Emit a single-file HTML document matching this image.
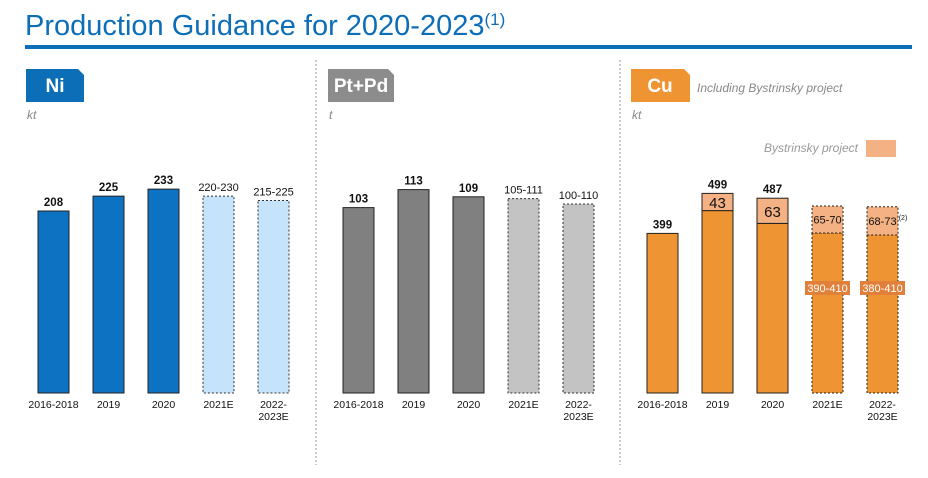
<!DOCTYPE html>
<html><head><meta charset="utf-8"><style>
body{margin:0;background:#fff;}
svg{display:block;font-family:"Liberation Sans","DejaVu Sans",sans-serif;}
</style></head><body>
<svg id="c" width="928" height="478" viewBox="0 0 928 478">
<text x="25" y="35" font-size="29" fill="#0d6eb8">Production Guidance for 2020-2023<tspan font-size="17" dy="-10">(1)</tspan></text>
<rect x="25" y="45" width="887" height="4" fill="#0d6eb8"/>
<line x1="316" y1="60" x2="316" y2="465" stroke="#999" stroke-dasharray="2,2"/>
<line x1="620" y1="60" x2="620" y2="465" stroke="#999" stroke-dasharray="2,2"/>
<path d="M26,69 H78 L84,75 V102 H26 Z" fill="#0d6eb8"/>
<text x="55" y="92" font-size="19" font-weight="bold" fill="#fff" text-anchor="middle">Ni</text>
<text x="27" y="119" font-size="12" font-style="italic" fill="#888">kt</text>
<path d="M328,69 H388 L394,75 V102 H328 Z" fill="#8c8c8c"/>
<text x="361" y="92" font-size="19" font-weight="bold" fill="#fff" text-anchor="middle">Pt+Pd</text>
<text x="329" y="119" font-size="12" font-style="italic" fill="#888">t</text>
<path d="M631,69 H684 L690,75 V102 H631 Z" fill="#ef9433"/>
<text x="660" y="92" font-size="19" font-weight="bold" fill="#fff" text-anchor="middle">Cu</text>
<text x="697" y="92" font-size="12" font-style="italic" fill="#888">Including Bystrinsky project</text>
<text x="632" y="119" font-size="12" font-style="italic" fill="#888">kt</text>
<text x="858" y="152" font-size="12" font-style="italic" fill="#999" text-anchor="end">Bystrinsky project</text>
<rect x="866" y="140" width="30" height="17" fill="#f4b183"/>
<g id="bars"></g>
</svg>
<script>
const categories=["2016-2018","2019","2020","2021E","2022-\n2023E"];
const niValues=[208,225,233,225,220];
const niLabels=["208","225","233","220-230","215-225"];
const ptValues=[103,113,109,108,105];
const ptLabels=["103","113","109","105-111","100-110"];
const cuBase=[399,456,424,400,395];
const cuBys=[0,43,63,67.5,70.5];
const cuTotalLabels=["399","499","487","",""];
const cuBysLabels=["","43","63","65-70","68-73"];
const cuBaseLabels=["","","","390-410","380-410"];
const forecast=[false,false,false,true,true];

const NS="http://www.w3.org/2000/svg";
const g=document.getElementById('bars');
const BASE=393;
function mk(tag,attrs,parent){const e=document.createElementNS(NS,tag);for(const k in attrs)e.setAttribute(k,attrs[k]);(parent||g).appendChild(e);return e;}
function txt(x,y,s,attrs){const t=mk('text',Object.assign({x:x,y:y,'text-anchor':'middle'},attrs));t.textContent=s;return t;}
function yScale(v,k){return BASE-v*k;}

function panel(x0,values,labels,k,solid,light,name){
  values.forEach((v,i)=>{
    const x=x0+i*55, y=yScale(v,k);
    const r=mk('rect',{x:x,y:y,width:31,height:BASE-y,fill:forecast[i]?light:solid,stroke:forecast[i]?'#333':'#222','stroke-width':1,'stroke-dasharray':forecast[i]?'2,2':'none'});
    
    
    const t=txt(x+15.5,y-5,labels[i],{'font-size':forecast[i]?11:11.5,'font-weight':forecast[i]?'normal':'bold',fill:'#111'});
    
    
    catLabel(x+15.5,i,name);
  });
}
function catLabel(cx,i,name){
  const parts=categories[i].split("\n");
  parts.forEach((p,j)=>{
    const t=txt(cx,408+j*12,p,{'font-size':10.5,fill:'#111'});
    
    
  });
}
panel(38,niValues,niLabels,0.875,'#0d72c2','#c5e3fa','ni');
panel(343,ptValues,ptLabels,1.8,'#808080','#c3c3c3','ptpd');

const ck=0.4;
cuBase.forEach((b,i)=>{
  const x=647+i*55, yb=yScale(b,ck), yt=yScale(b+cuBys[i],ck);
  const dash=forecast[i]?'2,2':'none';
  const r=mk('rect',{x:x,y:yb,width:31,height:BASE-yb,fill:'#ef9433',stroke:'#222','stroke-dasharray':dash});
  
  
  if(cuBys[i]>0){
    const r2=mk('rect',{x:x,y:yt,width:31,height:yb-yt,fill:'#f4b183',stroke:'#222','stroke-dasharray':dash});
    
    
    const t=txt(x+15.5,(yt+yb)/2+(forecast[i]?4:6),cuBysLabels[i],{'font-size':forecast[i]?11:15,fill:'#111'});
    
    
    if(i===4){
      const s=txt(x+36,(yt+yb)/2-1,'(2)',{'font-size':7,fill:'#111'});
      
      
    }
  }
  if(cuTotalLabels[i]){
    const t=txt(x+15.5,yt-5,cuTotalLabels[i],{'font-size':11.5,'font-weight':'bold',fill:'#111'});
    
    
  }
  if(cuBaseLabels[i]){
    const bg=mk('rect',{x:x-7,y:281,width:45,height:14,fill:'#e0803a'});
    
    
    const t=txt(x+15.5,292,cuBaseLabels[i],{'font-size':11,fill:'#fff'});
    
    
  }
  catLabel(x+15.5,i,'cu');
});
</script>
</body></html>
